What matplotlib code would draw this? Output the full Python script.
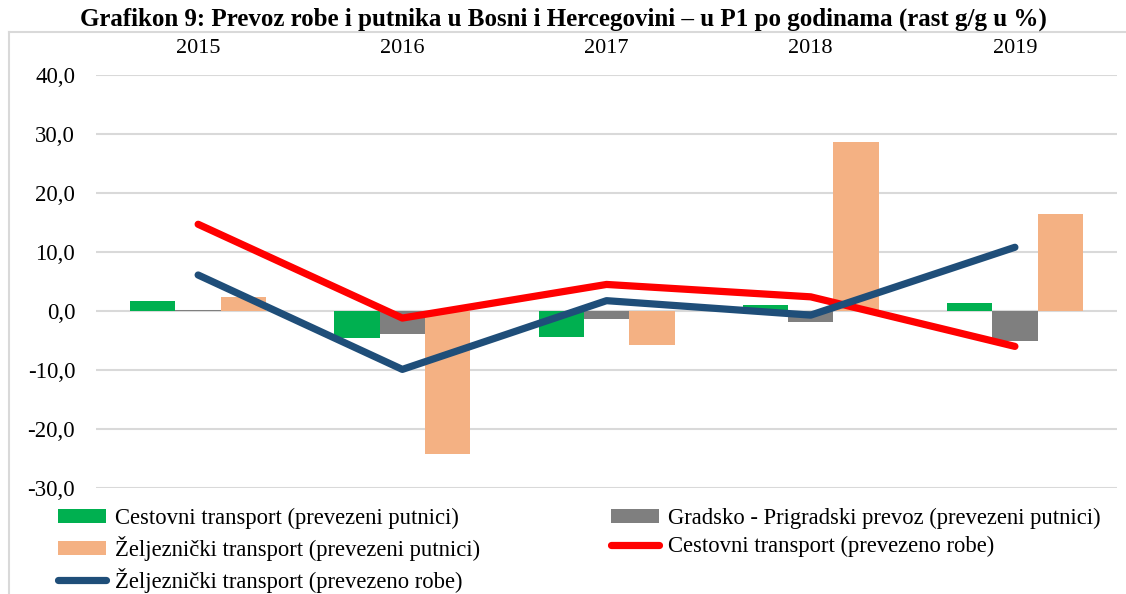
import numpy as np
import matplotlib.pyplot as plt
from matplotlib.lines import Line2D

plt.rcParams['font.family'] = ['Liberation Serif', 'DejaVu Serif']

years = ['2015', '2016', '2017', '2018', '2019']
cestovni_putnici = [1.7, -4.6, -4.4, 1.1, 1.3]
gradski_putnici = [0.2, -3.9, -1.4, -1.9, -5.1]
zeljeznicki_putnici = [2.3, -24.3, -5.8, 28.6, 16.5]
cestovni_robe = [14.7, -1.2, 4.5, 2.4, -6.0]
zeljeznicki_robe = [6.1, -9.9, 1.75, -0.7, 10.8]

labels = ['Cestovni transport (prevezeni putnici)',
          'Gradsko - Prigradski prevoz (prevezeni putnici)',
          'Željeznički transport (prevezeni putnici)',
          'Cestovni transport (prevezeno robe)',
          'Željeznički transport (prevezeno robe)']

green, gray, orange = '#00B050', '#7F7F7F', '#F4B183'
red, blue = '#FF0000', '#1F4E79'

fig = plt.figure(figsize=(11.26, 5.94), dpi=100)
ax = fig.add_axes([0.0853, 0.1785, 0.9067, 0.6952])

x = np.arange(len(years))
w = 0.222
b1 = ax.bar(x - w, cestovni_putnici, w, color=green, zorder=2)
b2 = ax.bar(x, gradski_putnici, w, color=gray, zorder=2)
b3 = ax.bar(x + w, zeljeznicki_putnici, w, color=orange, zorder=2)
l1, = ax.plot(x, cestovni_robe, color=red, lw=5.2, solid_capstyle='round',
              solid_joinstyle='round', zorder=3)
l2, = ax.plot(x, zeljeznicki_robe, color=blue, lw=5.2, solid_capstyle='round',
              solid_joinstyle='round', zorder=4)

ax.set_xlim(-0.5, 4.5)
ax.set_ylim(-30, 40)
ax.set_yticks(np.arange(-30, 41, 10))
ax.set_yticklabels([f'{v:.1f}'.replace('.', ',') for v in np.arange(-30, 41, 10)],
                   fontsize=16.5)
ax.set_xticks(x)
ax.set_xticklabels(years, fontsize=16)
ax.xaxis.tick_top()
ax.tick_params(axis='x', length=0, pad=12)
ax.tick_params(axis='y', length=0, pad=15)
ax.grid(axis='y', color='#d9d9d9', lw=1.5, zorder=0)
for s in ax.spines.values():
    s.set_visible(False)

# chart border (left and top)
fig.add_artist(Line2D([9 / 1126, 9 / 1126], [0, 1 - 32 / 594], color='#d9d9d9',
                      lw=1.5, transform=fig.transFigure))
fig.add_artist(Line2D([9 / 1126, 1], [1 - 32 / 594, 1 - 32 / 594], color='#d9d9d9',
                      lw=1.5, transform=fig.transFigure))

fig.text(0.5, 1 - 19 / 594, 'Grafikon 9: Prevoz robe i putnika u Bosni i Hercegovini – u P1 po godinama (rast g/g u %)',
         ha='center', va='center', fontsize=18, fontweight='bold')

handles = [b1, b3, l2, b2, l1]
hl = [labels[0], labels[2], labels[4], labels[1], labels[3]]
fig.legend(handles, hl, ncol=2, loc='upper left', bbox_to_anchor=(58 / 1126, 1 - 508 / 594),
           frameon=False, fontsize=16.3, handlelength=2.1, handleheight=0.6,
           handletextpad=0.4, columnspacing=5.8, labelspacing=0.3,
           borderaxespad=0, borderpad=0)

fig.savefig('out.png', dpi=100)
